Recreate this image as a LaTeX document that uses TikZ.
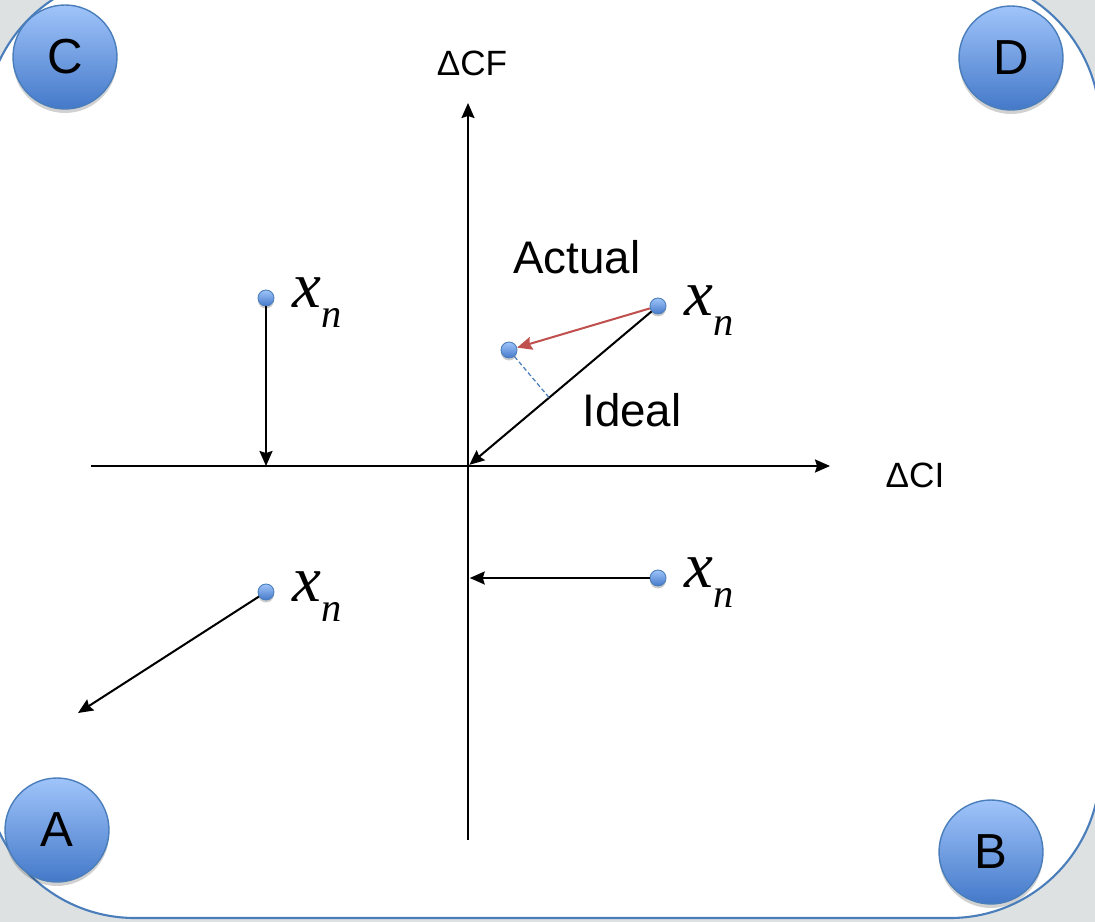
\documentclass[tikz,border=0pt]{standalone}
\usepackage{fontspec}
\setmainfont{Liberation Sans}
\newfontfamily\serifit{Liberation Serif}
\usepackage{tikz}
\usetikzlibrary{arrows.meta,positioning,shadows,calc}
\definecolor{slideblue}{HTML}{4A7EBB}
\definecolor{slidegray}{HTML}{DEE1E2}
\definecolor{balltop}{HTML}{A0C4FA}
\definecolor{ballbot}{HTML}{4479C9}
\definecolor{actualred}{HTML}{C0504D}
\newcommand{\xsub}{x\raisebox{-0.4cm}{\fontsize{23}{26}\selectfont n}}
\tikzset{
  corner/.style={circle,draw=slideblue,line width=0.8pt,top color=balltop,bottom color=ballbot,
    minimum size=2.08cm,inner sep=0pt,font=\fontsize{28}{30}\selectfont,
    drop shadow={shadow xshift=0pt,shadow yshift=-0.08cm,opacity=0.18,fill=black}},
  datapt/.style={circle,draw=slideblue,line width=0.5pt,top color=balltop,bottom color=ballbot,
    minimum size=0.32cm,inner sep=0pt,
    drop shadow={shadow xshift=0pt,shadow yshift=-0.05cm,opacity=0.2,fill=black}},
  xn/.style={font=\serifit\itshape\fontsize{37}{40}\selectfont,inner sep=0pt},
  lbl/.style={font=\fontsize{26}{30}\selectfont,inner sep=0pt},
  axlbl/.style={font=\fontsize{20}{24}\selectfont,inner sep=0pt},
  arr/.style={line width=1.15pt,-{Stealth[length=0.3cm,width=0.26cm,inset=0.04cm]}}
}

\begin{document}
\begin{tikzpicture}[x=0.02cm,y=-0.02cm]
    % Slide frame
    \useasboundingbox (0,0) rectangle (1095,922);
    \fill[slidegray] (0,0) rectangle (1095,922);
    \begin{scope}
    \clip (0,0) rectangle (1095,922);
    \draw[slideblue,line width=1.2pt,fill=white,rounded corners=3cm] (-15,-25) rectangle (1100,918);
    \end{scope}

    % Delta CI - Delta CF axes
    \coordinate (o) at (468,466);
    \coordinate (cfbot) at (468,840);
    \coordinate (cftop) at (468,103);
    \coordinate (cileft) at (91,466);
    \coordinate (ciright) at (830,466);
    \draw[arr] (cfbot) -- (cftop);
    \draw[arr] (cileft) -- (ciright);
    \node[axlbl] (cf) at (472,63) {ΔCF};
    \node[axlbl] (ci) at (915,475) {ΔCI};

    % Points x_n
    \node[datapt] (p1) at (266,298) {};
    \node[datapt] (p2) at (658,306) {};
    \node[datapt] (p3) at (509,350) {};
    \node[datapt] (p4) at (266,592) {};
    \node[datapt] (p5) at (658,578) {};
    \foreach \p in {1,2,4,5}
      \node[xn,right=0.36cm of p\p,yshift=-0.1cm] (l\p) {\xsub};

    % Moves
    \coordinate (farA) at (78,713);
    \draw[arr] (p1) -- (p1 |- o);
    \draw[arr,shorten >=1pt] (p2) -- (o);
    \draw[arr] (p4) -- (farA);
    \draw[arr,shorten >=1pt] (p5) -- (o |- p5);
    \draw[arr,actualred] (p2) -- (p3);
    \draw[slideblue,line width=0.7pt,dash pattern=on 2.5pt off 1.5pt] (p3) -- ($(p2)!(p3)!(o)$);
    \node[lbl] (actual) at (577,257) {Actual};
    \node[lbl] (ideal) at (632,410) {Ideal};

    % Quadrants
    \node[corner] (qc) at (65,57) {C};
    \node[corner] (qd) at (1011,58) {D};
    \node[corner] (qa) at (57,830) {A};
    \node[corner] (qb) at (991,852) {B};
\end{tikzpicture}
\end{document}
